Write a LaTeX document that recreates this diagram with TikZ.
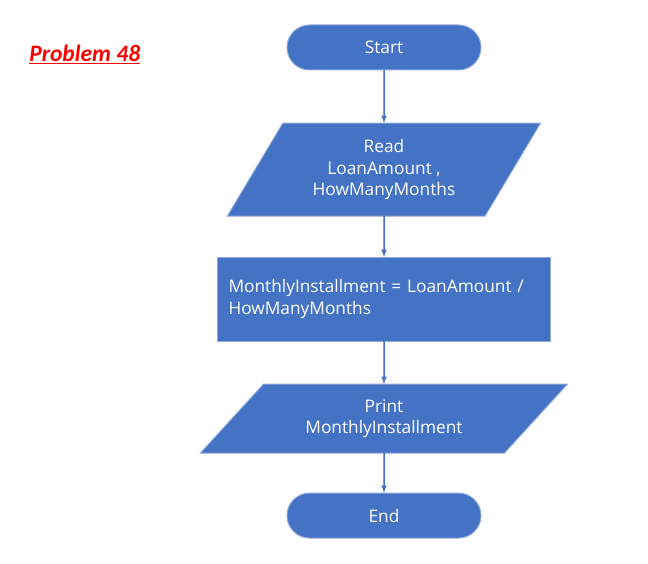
\documentclass[tikz,border=0pt]{standalone}
\usepackage{fontspec}
\setmainfont{Open Sans}
\newfontfamily\titlefont{Carlito}
\usetikzlibrary{shapes.geometric}
\usetikzlibrary{arrows}
\definecolor{boxblue}{HTML}{4472C4}
\definecolor{edgeblue}{HTML}{8FAADC}
\definecolor{titlered}{HTML}{FF0000}

\begin{document}
\begin{tikzpicture}[thick, x=1pt, y=1pt,
  every node/.style={text=white, font=\fontsize{17.3}{21.5}\selectfont, outer sep=0pt},
  terminal/.style={fill=boxblue, draw=edgeblue, line width=1pt, rectangle, rounded corners=22.5pt, minimum width=194pt, minimum height=45pt},
  inout/.style={fill=boxblue, draw=edgeblue, line width=1pt, trapezium, trapezium stretches=true, align=center, inner sep=0pt},
  process/.style={fill=boxblue, draw=edgeblue, line width=1pt, rectangle, align=left, text width=311pt, inner xsep=11pt, minimum height=84pt},
  flow/.style={draw=boxblue, line width=1.5pt, -latex}]
\useasboundingbox (0,0) rectangle (648,-564);
\node [text=titlered, font=\titlefont\bfseries\itshape\fontsize{23.5}{26}\selectfont, anchor=west] (title) at (26,-54) {\underline{Problem 48}};

\node [terminal] (start) at (384,-47.5) {Start};
\node [inout, below=53pt, at=(start.south), trapezium left angle=57, trapezium right angle=123, minimum width=314pt, minimum height=93pt] (read) {Read\\LoanAmount ,\\HowManyMonths};
\node [process, below=41pt, at=(read.south)] (calc) {MonthlyInstallment = LoanAmount /\\HowManyMonths};
\node [inout, below=43pt, at=(calc.south), trapezium left angle=43, trapezium right angle=137, minimum width=368pt, minimum height=69pt] (print) {Print\\MonthlyInstallment};
\node [terminal, below=40pt, at=(print.south)] (end) {End};

\draw [flow] (start) -- (read);
\draw [flow] (read) -- (calc);
\draw [flow] (calc) -- (print);
\draw [flow] (print) -- (end);
\end{tikzpicture}
\end{document}
